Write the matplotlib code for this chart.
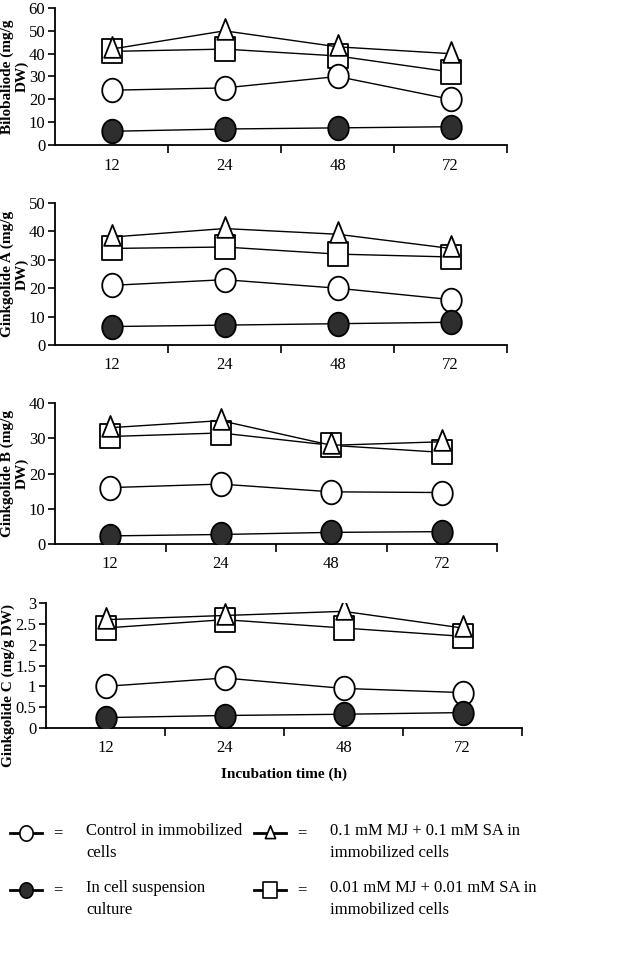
import numpy as np
import matplotlib.pyplot as plt
from matplotlib.path import Path
from matplotlib.ticker import FuncFormatter, FixedLocator

plt.rcParams['font.family'] = ['Liberation Serif', 'DejaVu Serif']

hours = ["12", "24", "48", "72"]

# Bilobalide
bil_control = [24, 25, 30, 20]
bil_suspension = [6, 7, 7.5, 8]
bil_high = [42, 50, 43, 40]
bil_low = [41, 42, 39, 32]

# Ginkgolide A
gka_control = [21, 23, 20, 16]
gka_suspension = [6.5, 7, 7.5, 8]
gka_high = [38, 41, 39, 34]
gka_low = [34, 34.5, 32, 31]

# Ginkgolide B
gkb_control = [16, 17, 14.8, 14.6]
gkb_suspension = [2.3, 2.7, 3.3, 3.5]
gkb_high = [33, 35, 28, 29]
gkb_low = [30.5, 31.5, 28, 26]

# Ginkgolide C
gkc_control = [1.0, 1.2, 0.95, 0.85]
gkc_suspension = [0.25, 0.3, 0.33, 0.37]
gkc_high = [2.6, 2.7, 2.8, 2.4]
gkc_low = [2.4, 2.6, 2.4, 2.2]

legend_labels = ["Control in immobilized\ncells",
                 "In cell suspension\nculture",
                 "0.1 mM MJ + 0.1 mM SA in\nimmobilized cells",
                 "0.01 mM MJ + 0.01 mM SA in\nimmobilized cells"]

# slightly tall markers like in the picture
t = np.linspace(0, 2 * np.pi, 60)
ell = Path(np.column_stack([np.cos(t), 1.15 * np.sin(t)]), closed=True)
sq = Path([(-1, -1.15), (1, -1.15), (1, 1.15), (-1, 1.15), (-1, -1.15)], closed=True)
tri = Path([(-1, -1), (1, -1), (0, 1.5), (-1, -1)], closed=True)

panels = [
    ("Bilobaliode (mg/g\nDW)", bil_control, bil_suspension, bil_high, bil_low, 60, 10,
     [55, 8, 507, 145], (-0.058, 0.5)),
    ("Ginkgolide A (mg/g\nDW)", gka_control, gka_suspension, gka_high, gka_low, 50, 10,
     [55, 203, 507, 345], (-0.058, 0.5)),
    ("Ginkgolide B (mg/g\nDW)", gkb_control, gkb_suspension, gkb_high, gkb_low, 40, 10,
     [55, 403, 497, 544], (-0.06, 0.5)),
    ("Ginkgolide C (mg/g DW)", gkc_control, gkc_suspension, gkc_high, gkc_low, 3, 0.5,
     [46, 603, 522, 728], (-0.066, 0.34)),
]

W, H = 640, 965
fig = plt.figure(figsize=(6.4, 9.65), dpi=100)

x = np.arange(len(hours)) + 0.5
for lab, ctrl, susp, high, low, ymax, step, box, lc in panels:
    l, tp, r, b = box
    ax = fig.add_axes([l / W, 1 - b / H, (r - l) / W, (b - tp) / H])
    ax.plot(x, low, color='black', lw=1, marker=sq, ms=17, mfc='white', mec='black', mew=1.3, zorder=3)
    ax.plot(x, high, color='black', lw=1, marker=tri, ms=18, mfc='white', mec='black', mew=1.3, zorder=4)
    ax.plot(x, ctrl, color='black', lw=1, marker=ell, ms=17, mfc='white', mec='black', mew=1.3, zorder=3)
    ax.plot(x, susp, color='black', lw=1, marker=ell, ms=17, mfc='#2e2e2e', mec='black', mew=1.3, zorder=3)
    ax.set_xlim(0, 4)
    ax.set_ylim(0, ymax)
    ax.set_yticks(np.arange(0, ymax + step / 2, step))
    ax.yaxis.set_major_formatter(FuncFormatter(lambda v, p: f"{v:g}"))
    ax.set_xticks(x)
    ax.set_xticklabels(hours)
    ax.xaxis.set_minor_locator(FixedLocator([1, 2, 3, 4]))
    ax.tick_params(axis='x', which='major', length=0, labelsize=12, pad=9)
    ax.tick_params(axis='x', which='minor', length=6, width=1.2, direction='out')
    ax.tick_params(axis='y', length=5, width=1.2, direction='out', labelsize=12, pad=2)
    for s in ['top', 'right']:
        ax.spines[s].set_visible(False)
    for s in ['left', 'bottom']:
        ax.spines[s].set_linewidth(1.3)
    ax.set_ylabel(lab, fontsize=11, fontweight='bold', linespacing=1.1)
    ax.yaxis.set_label_coords(*lc)

ax.set_xlabel("Incubation time (h)", fontsize=11, fontweight='bold', labelpad=8)

# legend drawn by hand
lg = fig.add_axes([0, 0, 1, 1])
lg.set_xlim(0, W)
lg.set_ylim(H, 0)
lg.axis('off')
icons = [(ell, 'white', 26, 833), (ell, '#2e2e2e', 26, 890), (tri, 'white', 270, 833), (sq, 'white', 270, 890)]
for (mk, fc, cx, cy), txt in zip(icons, legend_labels):
    lg.plot([cx - 16, cx + 16], [cy, cy], color='black', lw=2)
    lg.plot([cx], [cy], marker=mk, ms=11, mfc=fc, mec='black', mew=1.2)
    lg.text(cx + 32, cy, "=", fontsize=12, ha='center', va='center')
    lg.text(cx + 60, cy - 10, txt, fontsize=12, ha='left', va='top', linespacing=1.5)

fig.savefig("out.png", dpi=100)
